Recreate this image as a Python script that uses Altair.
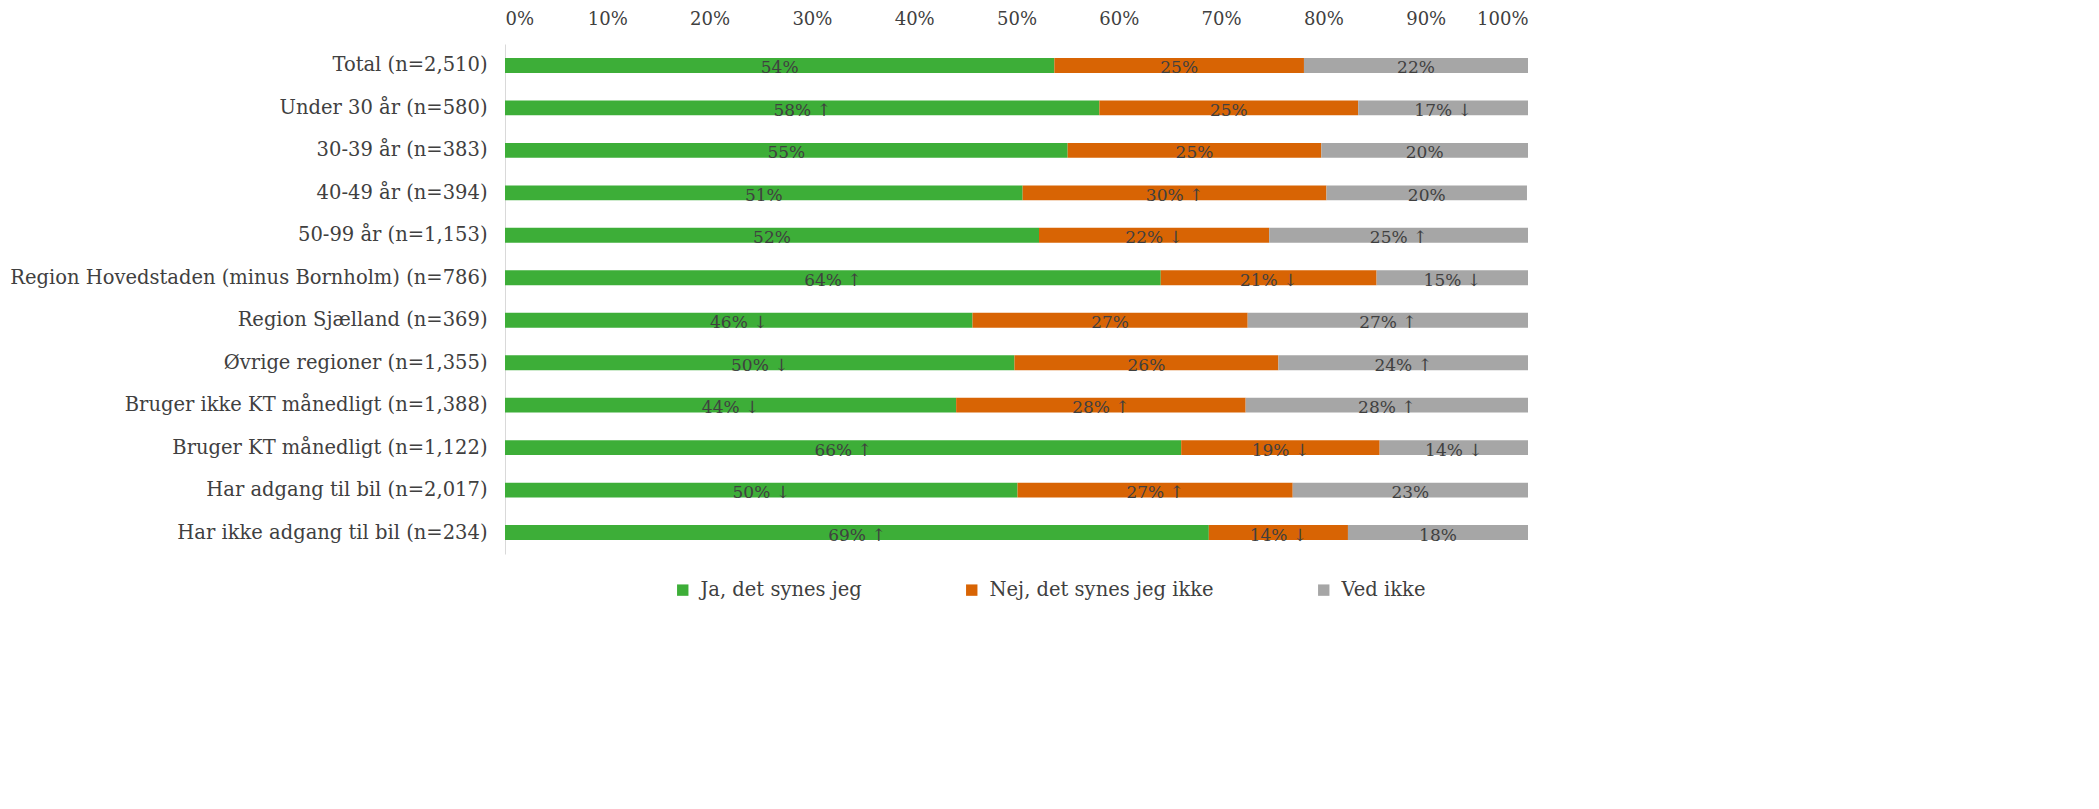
import altair as alt
import pandas as pd

categories = [
    "Total (n=2,510)",
    "Under 30 år (n=580)",
    "30-39 år (n=383)",
    "40-49 år (n=394)",
    "50-99 år (n=1,153)",
    "Region Hovedstaden (minus Bornholm) (n=786)",
    "Region Sjælland (n=369)",
    "Øvrige regioner (n=1,355)",
    "Bruger ikke KT månedligt (n=1,388)",
    "Bruger KT månedligt (n=1,122)",
    "Har adgang til bil (n=2,017)",
    "Har ikke adgang til bil (n=234)",
]
series = ["Ja, det synes jeg", "Nej, det synes jeg ikke", "Ved ikke"]
colors = ["#3DAE38", "#D86404", "#A6A6A6"]

ja = [53.7, 58.1, 55.0, 50.6, 52.2, 64.1, 45.7, 49.8, 44.1, 66.1, 50.1, 68.8]
nej = [24.4, 25.3, 24.8, 29.7, 22.5, 21.1, 26.9, 25.8, 28.3, 19.4, 26.9, 13.6]
ved = [21.9, 16.6, 20.2, 19.6, 25.3, 14.8, 27.4, 24.4, 27.6, 14.5, 23.0, 17.6]

ja_lbl = ["54%", "58% ↑", "55%", "51%", "52%", "64% ↑", "46% ↓", "50% ↓", "44% ↓", "66% ↑", "50% ↓", "69% ↑"]
nej_lbl = ["25%", "25%", "25%", "30% ↑", "22% ↓", "21% ↓", "27%", "26%", "28% ↑", "19% ↓", "27% ↑", "14% ↓"]
ved_lbl = ["22%", "17% ↓", "20%", "20%", "25% ↑", "15% ↓", "27% ↑", "24% ↑", "28% ↑", "14% ↓", "23%", "18%"]

rows = []
for i, c in enumerate(categories):
    for j, (vals, lbls) in enumerate([(ja, ja_lbl), (nej, nej_lbl), (ved, ved_lbl)]):
        rows.append({"cat": c, "series": series[j], "order": j, "value": vals[i] / 100.0, "label": lbls[i]})
df = pd.DataFrame(rows)

FONT = "DejaVu Serif"
TXT = "#404040"

base = alt.Chart(df).transform_stack(
    stack="value", groupby=["cat"], as_=["x0", "x1"], sort=[alt.SortField("order")]
).transform_calculate(mid="(datum.x0 + datum.x1) / 2")

y = alt.Y("cat:N", sort=categories, title=None,
          scale=alt.Scale(paddingInner=0.65, paddingOuter=0.33),
          axis=alt.Axis(domain=True, domainColor="#D9D9D9", domainWidth=1, ticks=False,
                        labelFont=FONT, labelFontSize=19.5, labelColor=TXT, labelPadding=18,
                        labelLimit=600))

bars = base.mark_bar().encode(
    x=alt.X("x0:Q", scale=alt.Scale(domain=[0, 1], nice=False), title=None,
            axis=alt.Axis(orient="top", format=".0%", values=[i / 10 for i in range(11)],
                          domain=False, ticks=False, grid=False, labelFont=FONT,
                          labelFontSize=18, labelColor=TXT, labelPadding=16)),
    x2="x1:Q",
    y=y,
    color=alt.Color("series:N", sort=series,
                    scale=alt.Scale(domain=series, range=colors),
                    legend=alt.Legend(title=None, orient="none", direction="horizontal",
                                      legendX=168, legendY=536, symbolType="square",
                                      symbolSize=130, symbolStrokeWidth=0,
                                      labelFont=FONT, labelFontSize=19.5, labelColor=TXT,
                                      labelLimit=400, columnPadding=100, labelOffset=8)),
)

text = base.mark_text(font=FONT, fontSize=17, color=TXT, dy=3).encode(
    x=alt.X("mid:Q"),
    y=alt.Y("cat:N", sort=categories),
    text="label:N",
)

chart = (bars + text).properties(
    width=1023, height=510,
    autosize=alt.AutoSizeParams(type="none"),
    padding={"left": 497, "top": 36, "right": 60, "bottom": 80},
).configure_view(stroke=None)

chart.save("out.html", embed_options={"renderer": "svg", "actions": False})
